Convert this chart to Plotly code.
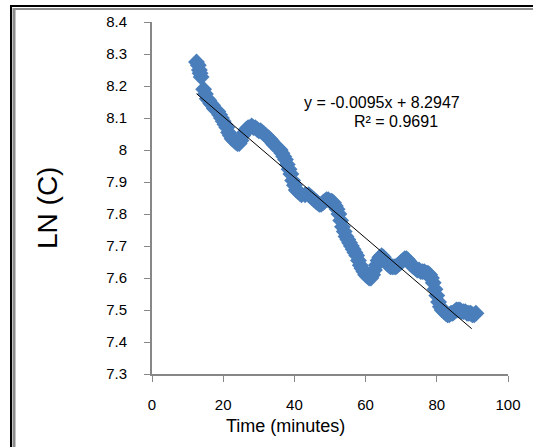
import plotly.graph_objects as go
import numpy as np

# Data
time_min = [12.5, 13.0, 13.3, 13.5, 13.8,
    14.5, 15.0, 15.5, 16.0, 16.5, 17.0, 17.5, 18.0, 18.5, 19.0, 19.5, 20.0, 20.5,
    21.0, 21.5, 22.0, 22.5, 23.0, 23.5, 24.0, 24.5, 25.0, 25.5, 26.0, 26.5, 27.0,
    27.5, 28.0, 28.5, 29.0, 29.5, 30.0, 30.5, 31.0, 31.5, 32.0, 32.5, 33.0, 33.5,
    34.0, 34.5, 35.0, 35.5, 36.0, 36.5, 37.0, 37.5, 38.0, 38.5, 39.0, 39.5, 40.0,
    40.5, 41.0, 41.5, 42.0, 43.0, 44.0, 44.5, 45.0, 45.5, 46.0, 46.5, 47.0, 47.5,
    48.0, 48.5, 49.0, 49.5, 50.0, 50.5, 51.0, 51.5, 52.0, 52.5, 53.0, 53.5, 54.0,
    54.5, 55.0, 55.5, 56.0, 56.5, 57.0, 57.5, 58.0, 58.5, 59.0, 59.5, 60.0, 60.5,
    61.0, 61.5, 62.0, 62.5, 63.0, 63.5, 64.0, 64.5, 65.0, 65.5, 66.0, 66.5, 67.0,
    67.5, 68.0, 68.5, 69.0, 69.5, 70.0, 70.5, 71.0, 71.5, 72.0, 72.5, 73.0, 73.5,
    74.0, 74.5, 75.0, 75.5, 76.0, 76.5, 77.0, 77.5, 78.0, 78.5, 79.0, 79.5, 80.0,
    80.5, 81.0, 81.5, 82.0, 82.5, 83.0, 83.5, 84.0, 84.5, 85.0, 85.5, 86.0, 86.5,
    87.0, 87.5, 88.0, 88.5, 89.0, 89.5, 90.0, 90.5, 91.0]
ln_c = [8.275, 8.265, 8.25, 8.24, 8.228,
    8.19, 8.175, 8.16, 8.155, 8.145, 8.14, 8.13, 8.125, 8.12, 8.11, 8.10, 8.09, 8.08,
    8.07, 8.055, 8.045, 8.035, 8.03, 8.025, 8.02, 8.02, 8.03, 8.045, 8.055, 8.065, 8.07,
    8.07, 8.075, 8.07, 8.07, 8.065, 8.06, 8.06, 8.055, 8.05, 8.045, 8.04, 8.035, 8.03,
    8.02, 8.015, 8.01, 8.005, 8.0, 7.99, 7.98, 7.97, 7.955, 7.94, 7.925, 7.905, 7.89,
    7.875, 7.87, 7.865, 7.86, 7.86, 7.86, 7.855, 7.85, 7.845, 7.84, 7.835, 7.83, 7.83,
    7.835, 7.84, 7.845, 7.845, 7.84, 7.84, 7.835, 7.825, 7.815, 7.80, 7.78, 7.76, 7.745,
    7.73, 7.72, 7.71, 7.70, 7.69, 7.68, 7.67, 7.655, 7.64, 7.63, 7.62, 7.61, 7.605,
    7.60, 7.60, 7.61, 7.625, 7.64, 7.655, 7.665, 7.67, 7.665, 7.655, 7.645, 7.64, 7.635,
    7.635, 7.635, 7.635, 7.64, 7.645, 7.65, 7.655, 7.66, 7.66, 7.655, 7.645, 7.64, 7.635,
    7.63, 7.625, 7.625, 7.62, 7.62, 7.62, 7.615, 7.615, 7.61, 7.60, 7.585, 7.565, 7.545,
    7.525, 7.51, 7.50, 7.495, 7.49, 7.485, 7.485, 7.49, 7.49, 7.495, 7.50, 7.50, 7.50,
    7.495, 7.495, 7.495, 7.49, 7.49, 7.49, 7.485, 7.485, 7.49]

trend_slope = -0.0095
trend_intercept = 8.2947
r_squared = 0.9691

x_ticks = [0, 20, 40, 60, 80, 100]
y_ticks = [7.3, 7.4, 7.5, 7.6, 7.7, 7.8, 7.9, 8.0, 8.1, 8.2, 8.3, 8.4]
y_tick_labels = ["7.3", "7.4", "7.5", "7.6", "7.7", "7.8", "7.9", "8", "8.1", "8.2", "8.3", "8.4"]

x_title = "Time (minutes)"
y_title = "LN (C)"

FONT = "Liberation Sans, Arial, sans-serif"

fig = go.Figure()
fig.add_trace(go.Scatter(
    x=time_min, y=ln_c, mode="markers",
    marker=dict(symbol="diamond", size=13, color="#4A7EBB", line=dict(width=0)),
    showlegend=False, hoverinfo="skip"))

tx = np.array([min(time_min), 89.8])
fig.add_trace(go.Scatter(
    x=tx, y=trend_slope * tx + trend_intercept, mode="lines",
    line=dict(color="black", width=1), showlegend=False, hoverinfo="skip"))

W, H = 533, 447
L, R, T, B = 152, 25, 22, 73
pw, ph = W - L - R, H - T - B

def px(x):
    return (x - L) / pw

def py(y):
    return (H - B - y) / ph

axis_common = dict(showgrid=False, zeroline=False, showline=True, linecolor="#878787",
                   linewidth=2, ticks="outside", ticklen=6, tickwidth=1, tickcolor="#878787",
                   tickfont=dict(family=FONT, size=15, color="black"))

fig.update_layout(
    width=W, height=H,
    margin=dict(l=L, r=R, t=T, b=B),
    paper_bgcolor="white", plot_bgcolor="white",
    xaxis=dict(range=[0, 100], tickvals=x_ticks, ticklabelstandoff=10, **axis_common),
    yaxis=dict(range=[7.3, 8.4], tickvals=y_ticks, ticktext=y_tick_labels,
               ticklabelstandoff=14, **axis_common),
    annotations=[
        dict(x=px(285), y=py(426), xref="paper", yref="paper", text=x_title,
             showarrow=False, font=dict(family=FONT, size=18, color="black"),
             xanchor="center", yanchor="middle"),
        dict(x=px(48), y=py(208), xref="paper", yref="paper", text=y_title,
             showarrow=False, textangle=-90, font=dict(family=FONT, size=28, color="black"),
             xanchor="center", yanchor="middle"),
        dict(x=px(382), y=py(102), xref="paper", yref="paper",
             text=f"y = {trend_slope}x + {trend_intercept}",
             showarrow=False, font=dict(family=FONT, size=16, color="black"),
             xanchor="center", yanchor="middle"),
        dict(x=px(396), y=py(122), xref="paper", yref="paper",
             text=f"R² = {r_squared}",
             showarrow=False, font=dict(family=FONT, size=16, color="black"),
             xanchor="center", yanchor="middle"),
    ],
    shapes=[
        dict(type="line", xref="paper", yref="paper", x0=px(10), x1=px(540), y0=py(6), y1=py(6),
             line=dict(color="black", width=2)),
        dict(type="line", xref="paper", yref="paper", x0=px(13), x1=px(540), y0=py(9), y1=py(9),
             line=dict(color="#8c8c8c", width=2)),
        dict(type="line", xref="paper", yref="paper", x0=px(11), x1=px(11), y0=py(5), y1=py(460),
             line=dict(color="black", width=2)),
        dict(type="line", xref="paper", yref="paper", x0=px(14), x1=px(14), y0=py(8), y1=py(460),
             line=dict(color="#8c8c8c", width=3)),
    ],
)

fig.write_html("out.html", config={"displayModeBar": False},
               post_script="document.body.style.margin='0';document.body.style.overflow='hidden';")
